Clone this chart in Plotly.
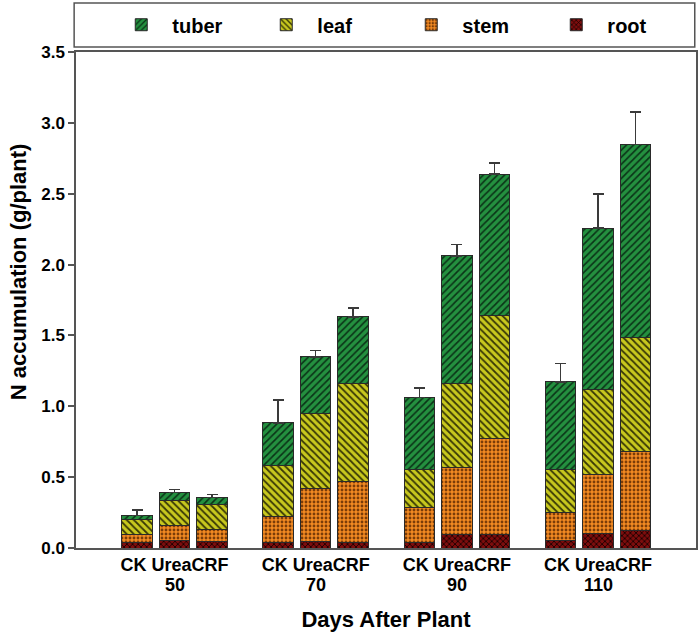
import plotly.graph_objects as go

days = ['50', '70', '90', '110']
treatments = ['CK', 'Urea', 'CRF']

# N accumulation per organ, order per day: CK, Urea, CRF
root = [0.042, 0.056, 0.049,
        0.040, 0.049, 0.042,
        0.042, 0.094, 0.092,
        0.056, 0.104, 0.127]
stem = [0.052, 0.104, 0.080,
        0.179, 0.370, 0.424,
        0.243, 0.471, 0.678,
        0.193, 0.412, 0.556]
leaf = [0.106, 0.177, 0.179,
        0.362, 0.530, 0.697,
        0.271, 0.595, 0.871,
        0.307, 0.605, 0.805]
tuber = [0.028, 0.056, 0.047,
         0.302, 0.400, 0.468,
         0.506, 0.902, 0.998,
         0.616, 1.137, 1.358]
err = [0.040, 0.020, 0.024,
       0.160, 0.045, 0.064,
       0.066, 0.078, 0.078,
       0.130, 0.240, 0.230]

# bar positions: group index plus offset of treatment inside the group
bar_step = 0.2655
x = [g + (t - 1) * bar_step for g in range(len(days)) for t in range(len(treatments))]

layers = [
    ('root', root, '#7d0d0d', '#1a0000', 'x', 4, 0.4),
    ('stem', stem, '#f28a22', '#7a3c08', '.', 4, 0.4),
    ('leaf', leaf, '#c8c81e', '#383805', '\\', 5, 0.35),
    ('tuber', tuber, '#24903f', '#0a3317', '/', 5, 0.33),
]

nb = '\u00a0'
fig = go.Figure()
for name, vals, bg, fg, shape, size, solid in layers:
    fig.add_trace(go.Bar(
        x=x, y=vals, name=nb * 2 + name, width=0.216,
        marker=dict(color=bg, line=dict(color='#2a2a2a', width=1),
                    pattern=dict(shape=shape, bgcolor=bg, fgcolor=fg,
                                 size=size, solidity=solid, fillmode='replace')),
        error_y=dict(type='data', array=err, arrayminus=[0] * len(err), symmetric=False,
                     color='#3a3a3a', thickness=1.5, width=5.5) if name == 'tuber' else None,
    ))

font = 'Liberation Sans, Arial, sans-serif'
bold = dict(family=font, weight='bold', color='black')

# day numbers under the treatment labels
for g, d in enumerate(days):
    fig.add_annotation(x=g, y=-0.0755, xref='x', yref='paper', text=d, showarrow=False,
                       xanchor='center', yanchor='middle', borderpad=0, font=dict(size=18, **bold))

fig.add_annotation(x=-0.0935, y=0.556, xref='paper', yref='paper', text='N accumulation (g/plant)',
                   textangle=-90, showarrow=False, xanchor='center', yanchor='middle',
                   font=dict(size=22, **bold))

fig.update_layout(
    width=699, height=632,
    barmode='stack',
    plot_bgcolor='white', paper_bgcolor='white',
    margin=dict(l=76, r=3, t=52, b=84, autoexpand=False),
    font=dict(family=font, color='black'),
    showlegend=True,
    legend=dict(orientation='h', traceorder='reversed', x=0.073, xanchor='left',
                y=1.055, yanchor='middle', font=dict(size=20, **bold),
                entrywidth=100, entrywidthmode='pixels', bgcolor='rgba(0,0,0,0)'),
    shapes=[dict(type='rect', xref='paper', yref='paper', x0=-0.003, x1=0.998,
                 y0=1.010, y1=1.099, line=dict(color='#555555', width=1.5))],
)
fig.update_xaxes(
    range=[-0.698, 3.694],
    tickvals=list(range(len(days))),
    ticktext=['CK UreaCRF'] * len(days),
    ticks='', showgrid=False, zeroline=False, ticklabelstandoff=0,
    showline=True, mirror=True, linecolor='#555555', linewidth=1.5,
    tickfont=dict(size=18, **bold),
    title=dict(text='Days After Plant', font=dict(size=22, **bold), standoff=38),
)
fig.update_yaxes(
    range=[0, 3.5], dtick=0.5, tickformat='.1f',
    ticks='outside', ticklen=6, tickcolor='#555555', tickwidth=1.5,
    showgrid=False, zeroline=False,
    showline=True, mirror=True, linecolor='#555555', linewidth=1.5,
    tickfont=dict(size=17, **bold),
)

fig.write_html('out.html', config={'displayModeBar': False},
               post_script="document.body.style.margin='0';")
